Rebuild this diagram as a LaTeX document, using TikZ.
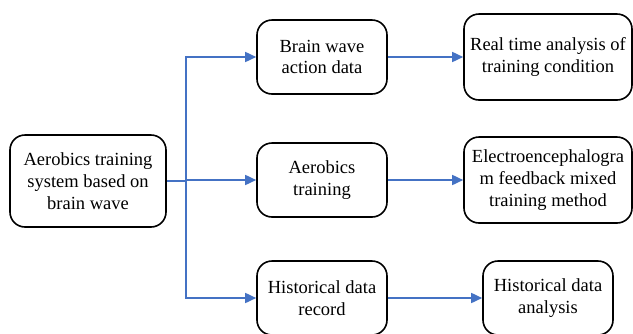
\documentclass[tikz,border=0pt]{standalone}
\usepackage{fontspec}
\setmainfont{Liberation Serif}
\usetikzlibrary{arrows.meta}
\definecolor{linkblue}{HTML}{4472C4}

\begin{document}
\begin{tikzpicture}[x=1pt,y=-1pt,
    box/.style={draw,line width=1.6pt,rounded corners=15pt,minimum width=130pt,minimum height=74pt,
        align=center,inner sep=0pt,font=\fontsize{18.5}{21.7}\selectfont},
    wide/.style={box,minimum width=168pt,minimum height=86pt},
    link/.style={draw=linkblue,line width=1.6pt,-{Triangle[length=11pt,width=10pt]}}]
        \useasboundingbox (0,0) rectangle (633,333);
        % root and first column
        \node[box,minimum width=156pt,minimum height=92pt] (sys) at (88,181) {Aerobics training\\system based on\\brain wave};
        \node[box] (wave) at (322,57) {Brain wave\\action data};
        \node[box] (aero) at (322,180) {Aerobics\\training};
        \node[box] (rec) at (322,298) {Historical data\\record};
        % second column
        \node[wide] (real) at (548,57) {Real time analysis of\\training condition};
        \node[wide] (eeg) at (548,180) {Electroencephalogra\\m feedback mixed\\training method};
        \node[box] (ana) at (548,298) {Historical data\\analysis};
        \coordinate (fork) at (186,181);
        \draw[linkblue,line width=1.6pt] (sys.east) -- (fork);
        \draw[link] (fork) |- (wave.west);
        \draw[link] (fork) |- (aero.west);
        \draw[link] (fork) |- (rec.west);
        \draw[link] (wave) -- (real);
        \draw[link] (aero) -- (eeg);
        \draw[link] (rec) -- (ana);
    \end{tikzpicture}
\end{document}
